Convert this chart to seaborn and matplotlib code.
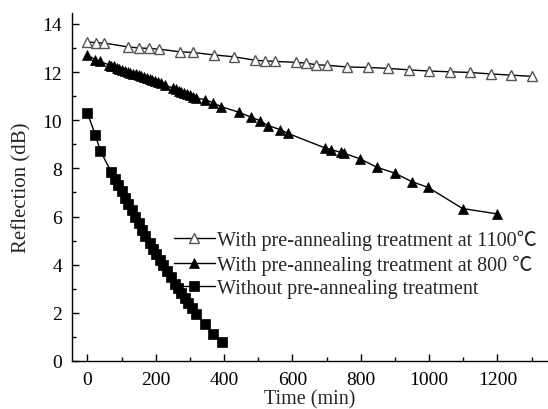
import numpy as np
import pandas as pd
import matplotlib
matplotlib.use("Agg")
import matplotlib.pyplot as plt
import seaborn as sns
from matplotlib.ticker import MultipleLocator

# ---- data ----
t_1100 = [0, 25, 50, 120, 150, 180, 210, 270, 310, 370, 430, 490, 520, 550,
          610, 640, 670, 700, 760, 820, 880, 940, 1000, 1060, 1120, 1180, 1240, 1300]
r_1100 = [13.25, 13.22, 13.2, 13.04, 13.0, 12.98, 12.95, 12.84, 12.81, 12.71, 12.63,
          12.49, 12.46, 12.44, 12.40, 12.37, 12.30, 12.28, 12.21, 12.19, 12.15, 12.09,
          12.04, 12.01, 11.98, 11.92, 11.87, 11.82]

t_800 = [0, 22, 37, 62, 70, 78, 86, 94, 102, 110, 118, 126, 134, 142, 150, 158, 166,
         174, 182, 190, 198, 206, 214, 226, 251, 259, 267, 275, 283, 291, 299, 309, 319,
         345, 368, 392, 443, 480, 505, 530, 564, 587, 695, 714, 743, 750, 797, 848, 900,
         949, 997, 1098, 1199]
r_800 = [12.72, 12.51, 12.44, 12.3, 12.27, 12.23, 12.18, 12.14, 12.1, 12.05, 12.01,
         11.97, 11.93, 11.9, 11.86, 11.82, 11.78, 11.74, 11.71, 11.67, 11.62, 11.58,
         11.54, 11.46, 11.33, 11.28, 11.23, 11.18, 11.14, 11.09, 11.04, 10.98, 10.92,
         10.85, 10.72, 10.56, 10.33, 10.12, 9.98, 9.77, 9.61, 9.45, 8.85, 8.77, 8.66,
         8.63, 8.4, 8.04, 7.8, 7.45, 7.21, 6.33, 6.11]

t_none = [0, 23, 38, 70, 80, 90, 100, 110, 120, 130, 140, 150, 160, 170, 182, 192,
          202, 212, 222, 232, 244, 256, 265, 275, 285, 295, 305, 317, 345, 368, 393]
r_none = [10.3, 9.4, 8.73, 7.84, 7.57, 7.31, 7.05, 6.78, 6.52, 6.26, 5.99, 5.73, 5.46,
          5.2, 4.9, 4.67, 4.44, 4.21, 3.98, 3.75, 3.48, 3.2, 3.02, 2.82, 2.61, 2.4, 2.2,
          1.96, 1.55, 1.12, 0.79]

labels = ["With pre-annealing treatment at 1100\u2103",
          "With pre-annealing treatment at 800 \u2103",
          "Without pre-annealing treatment"]

sns.set_style("ticks")
plt.rcParams['font.family'] = ['Liberation Serif', 'Noto Sans CJK SC', 'DejaVu Sans']
plt.rcParams['font.size'] = 14
plt.rcParams['axes.unicode_minus'] = False

fig = plt.figure(figsize=(5.48, 4.10), dpi=100)
ax = fig.add_axes([72/548, 1-362/410, (548-72)/548, (362-14)/410])

df1 = pd.DataFrame({"t": t_1100, "r": r_1100})
df2 = pd.DataFrame({"t": t_800, "r": r_800})
df3 = pd.DataFrame({"t": t_none, "r": r_none})

sns.lineplot(data=df1, x="t", y="r", ax=ax, sort=False, color="black", lw=1.0,
             marker="^", markersize=7.5, markerfacecolor="white",
             markeredgecolor="#555555", markeredgewidth=1.0, label=labels[0])
sns.lineplot(data=df2, x="t", y="r", ax=ax, sort=False, color="black", lw=1.0,
             marker="^", markersize=7.5, markerfacecolor="black",
             markeredgecolor="black", markeredgewidth=0.5, label=labels[1])
sns.lineplot(data=df3, x="t", y="r", ax=ax, sort=False, color="black", lw=1.0,
             marker="s", markersize=6.8, markerfacecolor="black",
             markeredgecolor="black", markeredgewidth=0.5, label=labels[2])

ax.set_xlim(-45, 1348)
ax.set_ylim(0, 14.45)
ax.xaxis.set_major_locator(MultipleLocator(200))
ax.xaxis.set_minor_locator(MultipleLocator(100))
ax.yaxis.set_major_locator(MultipleLocator(2))
ax.yaxis.set_minor_locator(MultipleLocator(1))
ax.tick_params(which="major", direction="in", length=5, width=1, colors="black",
               labelsize=14, pad=7)
ax.tick_params(which="minor", direction="in", length=3, width=1, colors="black")
for s in ["top", "right"]:
    ax.spines[s].set_visible(False)
for s in ["left", "bottom"]:
    ax.spines[s].set_color("black")
    ax.spines[s].set_linewidth(1.0)

ax.set_xlabel("Time (min)", fontsize=14.5, labelpad=1)
ax.set_ylabel("Reflection (dB)", fontsize=15, labelpad=8)

ax.legend(loc="upper left", bbox_to_anchor=(0.215, 0.378), frameon=False,
          handlelength=2.0, handletextpad=0.1, borderpad=0, labelspacing=0.22,
          fontsize=14.5, borderaxespad=0)

fig.savefig("out.png", dpi=100)
